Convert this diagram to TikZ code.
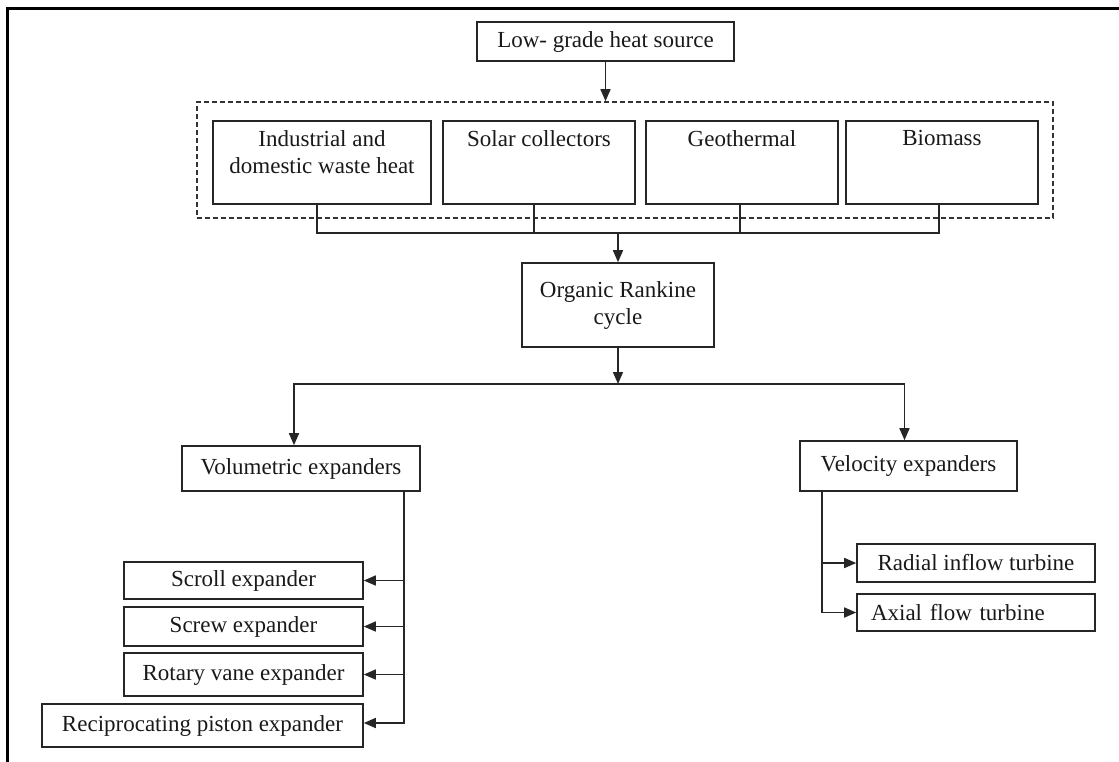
\documentclass[tikz,border=0pt]{standalone}
\usepackage{fontspec}
\setmainfont{Liberation Serif}
\usetikzlibrary{arrows.meta}
\begin{document}
\begin{tikzpicture}[x=1pt,y=-1pt,
  font=\fontsize{23}{27}\selectfont,
  box/.style={draw=black!85, line width=1.6pt, inner sep=0pt, align=center, text=black!90},
  conn/.style={draw=black!85, line width=1.6pt},
  arr/.style={conn, -{Triangle[length=12pt,width=10pt]}},
  grp/.style={draw=black!80, line width=1.6pt, dash pattern=on 5pt off 3pt}]
\useasboundingbox (0,0) rectangle (1119,761);
% frame
\draw[line width=3pt, line cap=rect] (7,761) -- (7,8) -- (1119,8);
% top
\node[box, minimum width=257pt, minimum height=39pt] (low) at (605.5,41.5) {Low- grade heat source};
\node[grp, minimum width=856pt, minimum height=116pt] (group) at (625,160) {};
\node[box, minimum width=218pt, minimum height=83pt] (ind) at (322,162.3) {Industrial and\\domestic waste heat\\[-6pt]};
\node[box, minimum width=192pt, minimum height=83pt] (sol) at (539,162.3) {Solar collectors\\~\\[-6pt]};
\node[box, minimum width=192pt, minimum height=83pt] (geo) at (742,162.3) {Geothermal\\~\\[-6pt]};
\node[box, minimum width=192pt, minimum height=83pt] (bio) at (942,162.3) {Biomass\\~\\[-6pt]};
\node[box, minimum width=192pt, minimum height=84pt] (orc) at (618,305) {Organic Rankine\\cycle};
\coordinate (j) at (618,233);
\coordinate (s) at (618,384);
\draw[arr] (low.south) -- (low.south |- group.north);
\draw[conn] ([xshift=-5pt]ind.south) |- (j) -| ([xshift=-3pt]bio.south);
\draw[conn] ([xshift=-5pt]sol.south) -- ([xshift=-5pt]sol.south |- j);
\draw[conn] ([xshift=-2pt]geo.south) -- ([xshift=-2pt]geo.south |- j);
\draw[arr] (j) -- (orc.north);
% second level
\node[box, minimum width=238pt, minimum height=45pt] (vol) at (301,468.5) {Volumetric expanders};
\node[box, minimum width=217pt, minimum height=50pt] (vel) at (908.5,466) {Velocity expanders};
\draw[arr] (orc.south) -- (s);
\draw[arr] (s) -| ([xshift=-7pt]vol.north);
\draw[arr] (s) -| ([xshift=-4pt]vel.north);
% volumetric children
\node[box, minimum width=239pt, minimum height=37pt] (scroll) at (243.5,580.5) {Scroll expander};
\node[box, minimum width=239pt, minimum height=39pt] (screw) at (243.5,626.5) {Screw expander};
\node[box, minimum width=239pt, minimum height=43pt] (rotary) at (243.5,674.5) {Rotary vane expander};
\node[box, minimum width=321pt, minimum height=43pt] (recip) at (202.5,725.5) {Reciprocating piston expander};
\coordinate (vt) at ([xshift=103pt]vol.south);
\draw[arr] (vt) |- ([yshift=2.5pt]recip.east);
\draw[arr] (vt |- scroll.east) -- (scroll.east);
\draw[arr] (vt |- screw.east) -- (screw.east);
\draw[arr] (vt |- rotary.east) -- (rotary.east);
% velocity children
\node[box, minimum width=238pt, minimum height=38pt] (radial) at (976,563) {Radial inflow turbine};
\node[box, text width=210pt, align=left, inner xsep=14pt, minimum height=37pt] (axial) at (976,612.5) {Axial flow turbine};
\coordinate (wt) at ([xshift=-86.5pt]vel.south);
\draw[arr] (wt) |- (axial.west);
\draw[arr] (wt |- radial.west) -- (radial.west);
\end{tikzpicture}
\end{document}
